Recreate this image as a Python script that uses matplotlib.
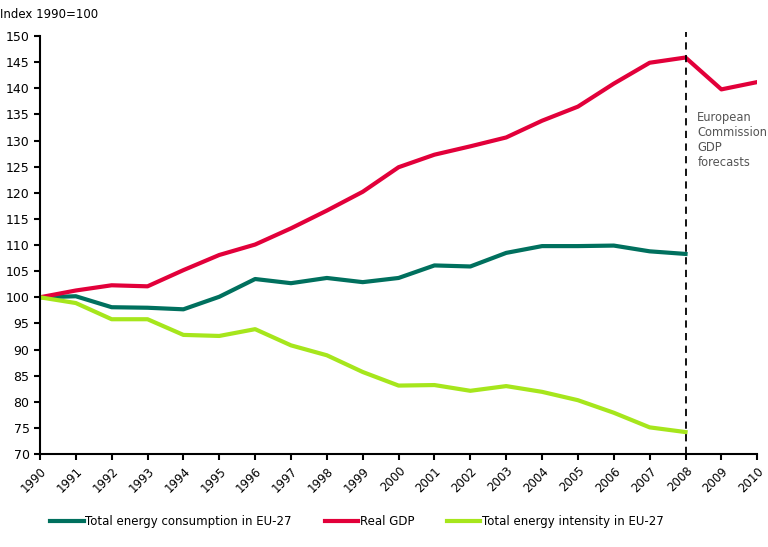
import matplotlib
matplotlib.use('Agg')
import matplotlib.pyplot as plt

years = list(range(1990, 2011))
consumption = [100, 100.2, 98.1, 98.0, 97.7, 100.1, 103.5, 102.7, 103.7, 102.9,
               103.7, 106.1, 105.9, 108.5, 109.8, 109.8, 109.9, 108.8, 108.3]
gdp = [100, 101.3, 102.3, 102.1, 105.2, 108.1, 110.1, 113.2, 116.6, 120.2,
       124.9, 127.3, 128.9, 130.6, 133.8, 136.5, 140.9, 144.9, 145.9, 139.8, 141.2]
intensity = [100, 98.9, 95.8, 95.8, 92.8, 92.6, 93.9, 90.8, 88.9, 85.7,
             83.1, 83.2, 82.1, 83.0, 81.9, 80.3, 77.9, 75.1, 74.2]
yticks = list(range(70, 151, 5))
forecast_year = 2008

plt.rcParams['font.family'] = ['DejaVu Sans']
fig = plt.figure(figsize=(7.68, 5.47), dpi=100)
ax = fig.add_axes([0.052, 0.170, 0.934, 0.764])

ax.plot(years[:len(consumption)], consumption, color='#00705e', lw=3,
        label='Total energy consumption in EU-27')
ax.plot(years, gdp, color='#e2003a', lw=3, label='Real GDP')
ax.plot(years[:len(intensity)], intensity, color='#a6e61c', lw=3,
        label='Total energy intensity in EU-27')

ax.vlines(forecast_year, 70, 150.8, colors='black', linestyles=(0, (4, 3)),
          lw=1.3, clip_on=False, zorder=5)
ax.text(2008.33, 135.6, 'European\nCommission\nGDP\nforecasts', color='#555555',
        fontsize=8.3, va='top', ha='left', linespacing=1.2)

ax.set_xlim(1990, 2010)
ax.set_ylim(70, 150)
ax.set_xticks(years)
ax.set_xticklabels([str(y) for y in years], rotation=45, ha='right',
                   rotation_mode='anchor', fontsize=8.5)
ax.set_yticks(yticks)
ax.tick_params(axis='y', labelsize=9, direction='out', length=4, width=1.5)
ax.tick_params(axis='x', direction='out', length=4, width=1.5)
for s in ['top', 'right']:
    ax.spines[s].set_visible(False)
for s in ['left', 'bottom']:
    ax.spines[s].set_linewidth(1.5)

fig.text(0.0, 0.985, 'Index 1990=100', fontsize=8.5, va='top', ha='left')

fig.legend(loc='lower center', bbox_to_anchor=(0.465, 0.015), ncol=3,
           frameon=False, fontsize=8.5, handlelength=2.8, columnspacing=2.8,
           handletextpad=0.15)

fig.savefig('out.png', dpi=100)
